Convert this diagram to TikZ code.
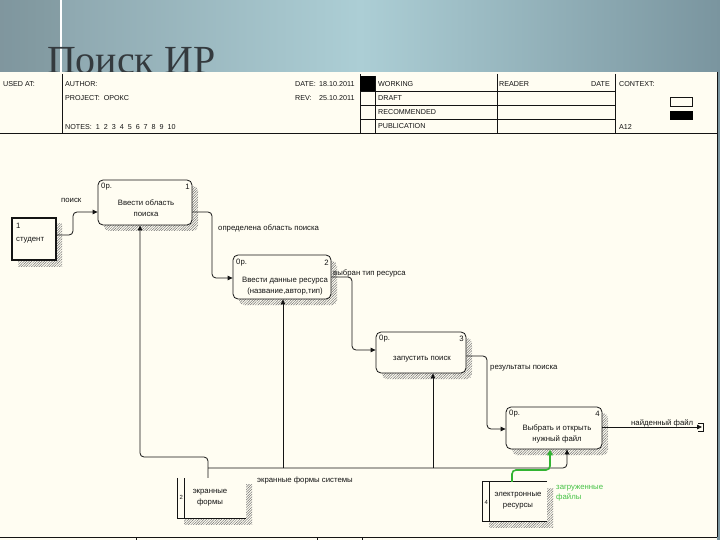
\documentclass[tikz,border=0pt]{standalone}
\usepackage{fontspec}
\setmainfont{Liberation Sans}
\newfontfamily\titlefont{Liberation Serif}
\usetikzlibrary{arrows.meta,patterns.meta,shadows,calc}
\definecolor{cream}{RGB}{255,253,242}
\definecolor{bgL}{RGB}{136,160,168}
\definecolor{bgM}{RGB}{172,206,213}
\definecolor{bgR}{RGB}{122,149,159}
\definecolor{titlegray}{RGB}{52,58,62}
\definecolor{ink}{RGB}{20,20,20}
\definecolor{grn}{RGB}{50,180,50}
\definecolor{grntext}{RGB}{70,195,70}
\tikzset{
  rule/.style={draw=ink, line width=0.8bp},
  hdr/.style={anchor=west, inner sep=0, text=ink, font=\fontsize{7.2}{8}\selectfont},
  lbl/.style={anchor=west, inner sep=0, text=ink},
  hatch/.style={pattern={Lines[angle=45,distance=1.8bp,line width=0.5bp]}, pattern color=black!55},
  shad/.style={general shadow={shadow xshift=6bp, shadow yshift=-6bp, hatch}},
  act/.style={draw=ink, line width=0.8bp, rounded corners=5bp, fill=cream, inner sep=0, shad},
  ext/.style={draw=ink, line width=2bp, fill=cream, inner sep=0, shad},
  tun/.style={fill=cream, inner sep=0, shad},
  con/.style={draw=ink, line width=0.8bp, rounded corners=4bp, -{Triangle[length=5bp,width=4.5bp]}},
  gcon/.style={draw=grn, line width=1.6bp, rounded corners=4bp, -{Triangle[length=6bp,width=5.5bp]}},
  txt/.style={align=center, inner sep=0, text=ink, font=\fontsize{7.8}{11}\selectfont},
}
\begin{document}
\begin{tikzpicture}[x=1bp,y=-1bp,font=\fontsize{7.8}{9}\selectfont]
\useasboundingbox (0,0) rectangle (720,540);
% slide background
\shade[left color=bgL, right color=bgR, middle color=bgM] (0,0) rectangle (720,540);
\fill[black,opacity=0.06] (0,0) rectangle (61,72);
\draw[white, line width=1.6bp] (61,0) -- (61,72);
\node[anchor=base west, inner sep=0, text depth=0pt, font=\titlefont\fontsize{40}{40}\selectfont, text=titlegray] (title) at (47,74) {Поиск ИР};
% sheet
\fill[cream] (0,72) rectangle (717,540);
% header frame
\draw[rule] (0,133) -- (717,133);
\draw[rule] (717,72) -- (717,537);
\draw[rule] (0,537) -- (717,537);
\draw[rule] (62,74) -- (62,133);
\draw[rule] (360,74) -- (360,133);
\draw[rule] (375,76) -- (375,133);
\draw[rule] (497,74) -- (497,133);
\draw[rule] (615,74) -- (615,133);
\draw[rule] (360,91) -- (615,91);
\draw[rule] (360,105.5) -- (615,105.5);
\draw[rule] (360,119) -- (615,119);
\fill[black] (360,76) rectangle (375,91);
\draw[rule] (136,537) -- (136,540);
\draw[rule] (317,537) -- (317,540);
\draw[rule] (362,537) -- (362,540);
% header texts
\node[hdr] (usedat) at (3,84) {USED AT:};
\node[hdr] (author) at (65,84) {AUTHOR:};
\node[hdr] (project) at (65,98) {PROJECT:\ \ ОРОКС};
\node[hdr] (notes) at (65,127) {NOTES:\ \ 1\ \ 2\ \ 3\ \ 4\ \ 5\ \ 6\ \ 7\ \ 8\ \ 9\ \ 10};
\node[hdr] (date) at (295,84) {DATE:};
\node[hdr] (dateval) at (319,84) {18.10.2011};
\node[hdr] (rev) at (295,98) {REV:};
\node[hdr] (revval) at (319,98) {25.10.2011};
\node[hdr] (working) at (378,84) {WORKING};
\node[hdr] (draft) at (378,98) {DRAFT};
\node[hdr] (recom) at (378,112) {RECOMMENDED};
\node[hdr] (publ) at (378,126.5) {PUBLICATION};
\node[hdr] (reader) at (499,84) {READER};
\node[hdr] (rdate) at (591,84) {DATE};
\node[hdr] (context) at (619,84) {CONTEXT:};
\node[hdr] (nodeno) at (619,127) {A12};
\draw[rule] (670,97.5) rectangle (692,106);
\fill[black] (670,111.5) rectangle (693,120);
% activity boxes
\node[act, minimum width=94bp, minimum height=45bp] (b1) at (145,202.5) {};
\node[act, minimum width=98bp, minimum height=44bp] (b2) at (282,277) {};
\node[act, minimum width=90bp, minimum height=41bp] (b3) at (421,352.5) {};
\node[act, minimum width=96bp, minimum height=42bp] (b4) at (554,428) {};
\node[ext, minimum width=44bp, minimum height=42bp] (st) at (34,239) {};
\node[tun, minimum width=68bp, minimum height=40bp] (ef) at (212,498) {};
\node[tun, minimum width=64bp, minimum height=39bp] (er) at (515,501.5) {};
% tunnel box frames
\draw[rule] (ef.north west) -- (ef.south west) -- (ef.south east);
\draw[rule] (184,478) -- (184,518);
\draw[rule] (er.north east) -- (er.north west) -- (er.south west) -- (er.south east);
\draw[rule] (489,482) -- (489,521);
% box texts
\node[lbl] (b1c) at (101,187) {0р.};
\node[lbl, anchor=east] (b1n) at (190,187) {1};
\node[txt] (b1t) at (146,208.5) {Ввести область\\поиска};
\node[lbl] (b2c) at (236,263) {0р.};
\node[lbl, anchor=east] (b2n) at (329,263) {2};
\node[txt] (b2t) at (285,286) {Ввести данные ресурса\\(название,автор,тип)};
\node[lbl] (b3c) at (379,339) {0р.};
\node[lbl, anchor=east] (b3n) at (464,339) {3};
\node[txt] (b3t) at (422,359) {запустить поиск};
\node[lbl] (b4c) at (509,414) {0р.};
\node[lbl, anchor=east] (b4n) at (600,414) {4};
\node[txt] (b4t) at (557,434) {Выбрать и открыть\\нужный файл};
\node[lbl] (stn) at (16,226) {1};
\node[lbl] (stt) at (16,240) {студент};
\node[lbl, font=\fontsize{6}{6}\selectfont] (efn) at (179.3,497) {2};
\node[txt] (eft) at (210,498) {экранные\\формы};
\node[lbl, font=\fontsize{6}{6}\selectfont] (ern) at (484.3,502) {4};
\node[txt] (ert) at (518,501) {электронные\\ресурсы};
% connectors
\draw[con] (st.east |- 0,235) -- (73,235) -- (73,212) -- (b1.west |- 0,212);
\node[lbl] (l1) at (61,200) {поиск};
\draw[con] (b1.east |- 0,212) -- (212,212) -- (212,278) -- (b2.west |- 0,278);
\node[lbl] (l2) at (218,228) {определена область поиска};
\draw[con] (b2.east |- 0,277) -- (352,277) -- (352,350) -- (b3.west |- 0,350);
\node[lbl] (l3) at (333,273) {выбран тип ресурса};
\draw[con] (b3.east |- 0,356) -- (487,356) -- (487,429) -- (b4.west |- 0,429);
\node[lbl] (l4) at (490,368) {результаты поиска};
\coordinate (out) at (702,427);
\draw[con] (b4.east |- 0,427) -- (out);
\draw[rule] (698,423) -- (703,423) -- (703,431) -- (698,431);
\node[lbl] (l5) at (631,423) {найденный файл};
% mechanisms
\draw[con] (ef.north -| 208,0) -- (208,457) -- (140,457) -- (b1.south -| 140,0);
\draw[con] (208,468) -- (567,468) -- (b4.south -| 567,0);
\draw[con] (283,468) -- (b2.south -| 283,0);
\draw[con] (433,468) -- (b3.south -| 433,0);
\node[lbl] (l6) at (257,480) {экранные формы системы};
\draw[gcon] (er.north -| 512,0) -- (512,470) -- (550,470) -- (b4.south -| 550,0);
\node[anchor=west, align=left, inner sep=0, text=grntext, font=\fontsize{7.8}{10}\selectfont] (l7) at (556,493) {загруженные\\файлы};
\end{tikzpicture}
\end{document}
